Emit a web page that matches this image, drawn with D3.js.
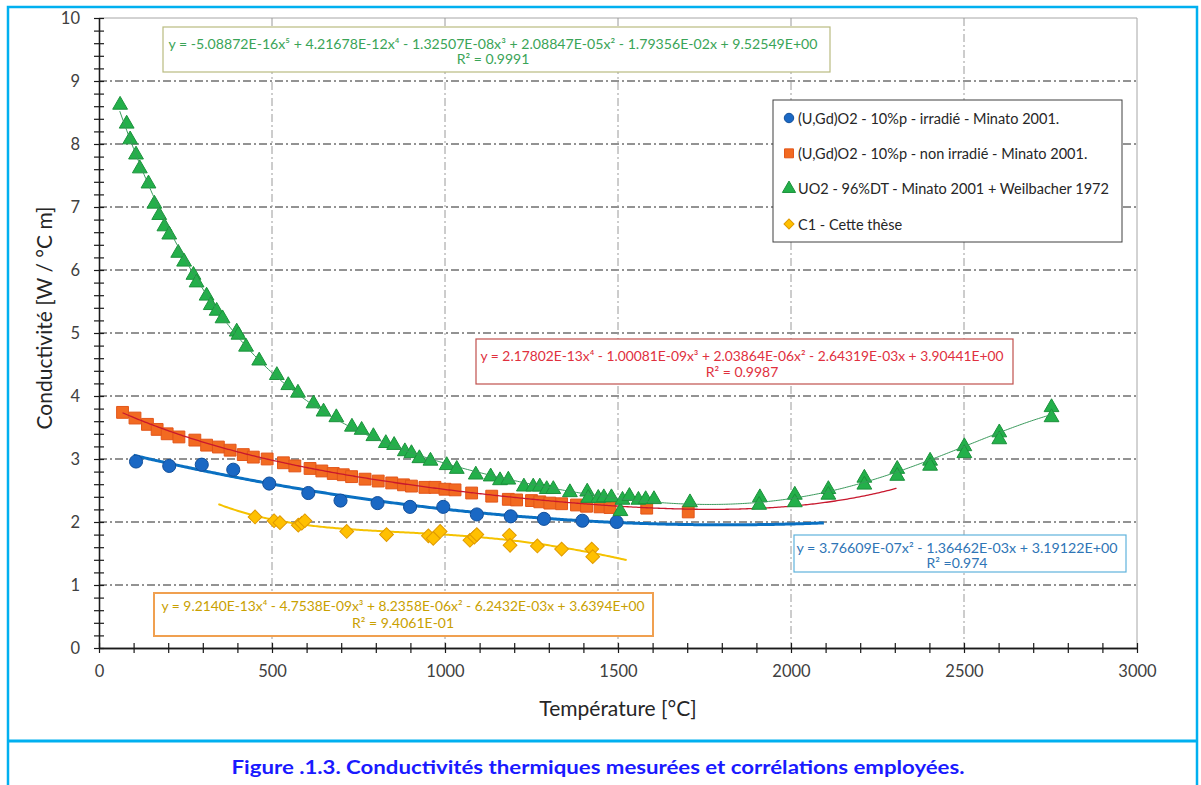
<!DOCTYPE html>
<html><head><meta charset="utf-8">
<script src="https://cdn.jsdelivr.net/npm/d3@7"></script>
<style>
html,body{margin:0;padding:0;background:#fff;}
svg{display:block;font-family:Lato,"Open Sans",sans-serif;}
</style></head>
<body>
<svg id="chart" width="1201" height="785"></svg>
<script>
// ---------- DATA ----------
const xTicks = [0, 500, 1000, 1500, 2000, 2500, 3000];
const yTicks = [0, 1, 2, 3, 4, 5, 6, 7, 8, 9, 10];

const seriesNames = [
  "(U,Gd)O2 - 10%p - irradié - Minato 2001.",
  "(U,Gd)O2 - 10%p - non irradié - Minato 2001.",
  "UO2 - 96%DT - Minato 2001 + Weilbacher 1972",
  "C1 - Cette thèse"
];

// (U,Gd)O2 irradié [T, k]
const irrT = [107, 203, 297, 388, 492, 605, 698, 805, 899, 995, 1092, 1190, 1286, 1397, 1496];
const irrK = [2.96, 2.89, 2.91, 2.83, 2.61, 2.46, 2.34, 2.30, 2.24, 2.24, 2.12, 2.09, 2.05, 2.02, 2.00];

// (U,Gd)O2 non irradié
const nonT = [68, 104, 140, 168, 197, 231, 277, 311, 345, 379, 417, 446, 486, 533, 566, 610, 644, 677, 706, 730, 769, 807, 846, 880, 903, 942, 971, 1000, 1029, 1077, 1135, 1183, 1207, 1250, 1274, 1303, 1337, 1380, 1409, 1448, 1477, 1583, 1703];
const nonK = [3.74, 3.65, 3.55, 3.47, 3.40, 3.35, 3.30, 3.22, 3.19, 3.14, 3.07, 3.03, 3.00, 2.94, 2.89, 2.85, 2.81, 2.77, 2.75, 2.72, 2.68, 2.65, 2.62, 2.59, 2.57, 2.55, 2.55, 2.52, 2.51, 2.46, 2.41, 2.36, 2.35, 2.34, 2.32, 2.30, 2.29, 2.27, 2.25, 2.24, 2.23, 2.22, 2.16];

// UO2 96%DT
const uoT = [61, 80, 90, 107, 118, 143, 160, 174, 189, 203, 229, 246, 273, 282, 311, 323, 340, 357, 398, 403, 425, 463, 514, 547, 575, 620, 649, 686, 731, 759, 793, 829, 853, 884, 903, 926, 958, 1005, 1034, 1089, 1132, 1159, 1183, 1228, 1255, 1274, 1294, 1313, 1361, 1411, 1414, 1443, 1459, 1481, 1507, 1513, 1533, 1559, 1580, 1604, 1708, 1910, 1908, 2011, 2011, 2108, 2108, 2212, 2212, 2307, 2307, 2402, 2402, 2501, 2501, 2602, 2602, 2753, 2753];
const uoK = [8.62, 8.32, 8.07, 7.83, 7.61, 7.37, 7.05, 6.87, 6.69, 6.56, 6.27, 6.13, 5.92, 5.80, 5.59, 5.44, 5.35, 5.23, 5.02, 4.97, 4.78, 4.56, 4.33, 4.17, 4.05, 3.88, 3.75, 3.66, 3.51, 3.46, 3.36, 3.25, 3.22, 3.12, 3.09, 3.01, 2.97, 2.90, 2.84, 2.75, 2.72, 2.66, 2.67, 2.56, 2.56, 2.56, 2.52, 2.52, 2.47, 2.48, 2.38, 2.38, 2.39, 2.39, 2.17, 2.35, 2.41, 2.35, 2.36, 2.36, 2.31, 2.39, 2.27, 2.43, 2.31, 2.52, 2.43, 2.70, 2.59, 2.84, 2.73, 2.97, 2.89, 3.20, 3.09, 3.42, 3.31, 3.82, 3.66];

// C1 - cette thèse
const c1T = [451, 506, 523, 576, 586, 595, 716, 831, 952, 966, 986, 1072, 1085, 1092, 1186, 1188, 1267, 1337, 1424, 1427];
const c1K = [2.08, 2.02, 1.99, 1.95, 1.98, 2.02, 1.85, 1.80, 1.78, 1.74, 1.85, 1.71, 1.76, 1.80, 1.79, 1.63, 1.62, 1.57, 1.57, 1.45];

// Trendline coefficients (as printed on the chart, highest power first) and their T ranges
const irrCoef = [3.76609E-07, -1.36462E-03, 3.19122E+00];
const nonCoef = [2.17802E-13, -1.00081E-09, 2.03864E-06, -2.64319E-03, 3.90441E+00];
const uoCoef  = [-5.08872E-16, 4.21678E-12, -1.32507E-08, 2.08847E-05, -1.79356E-02, 9.52549E+00];
const c1Coef  = [9.2140E-13, -4.7538E-09, 8.2358E-06, -6.2432E-03, 3.6394E+00];
const irrRange = [100, 2095];
const nonRange = [68, 2305];
const uoRange  = [60, 2753];
const c1Range  = [345, 1525];

const eqGreen  = ["y = -5.08872E-16x⁵ + 4.21678E-12x⁴ - 1.32507E-08x³ + 2.08847E-05x² - 1.79356E-02x + 9.52549E+00", "R² = 0.9991"];
const eqRed    = ["y = 2.17802E-13x⁴ - 1.00081E-09x³ + 2.03864E-06x² - 2.64319E-03x + 3.90441E+00", "R² = 0.9987"];
const eqBlue   = ["y = 3.76609E-07x² - 1.36462E-03x + 3.19122E+00", "R² =0.974"];
const eqOrange = ["y = 9.2140E-13x⁴ - 4.7538E-09x³ + 8.2358E-06x² - 6.2432E-03x + 3.6394E+00", "R² = 9.4061E-01"];

const xTitle = "Température [°C]";
const yTitle = "Conductivité [W / °C  m]";
const caption = "Figure .1.3. Conductivités thermiques mesurées et corrélations employées.";

// ---------- DRAW ----------
const svg = d3.select("#chart");
const X0 = 99, X1 = 1137, Y0 = 648, Y1 = 18;
const x = d3.scaleLinear().domain([0, 3000]).range([X0, X1]);
const y = d3.scaleLinear().domain([0, 10]).range([Y0, Y1]);

// frame
svg.append("rect").attr("x", 8).attr("y", 7).attr("width", 1189).attr("height", 800)
  .attr("fill", "none").attr("stroke", "#00b0f0").attr("stroke-width", 2.5);
svg.append("line").attr("x1", 8).attr("x2", 1197).attr("y1", 741).attr("y2", 741)
  .attr("stroke", "#00b0f0").attr("stroke-width", 3);

// plot border (top/right)
svg.append("line").attr("x1", X0).attr("x2", X1).attr("y1", y(10)).attr("y2", y(10)).attr("stroke", "#a6a6a6");
svg.append("line").attr("x1", X1).attr("x2", X1).attr("y1", y(10)).attr("y2", y(0)).attr("stroke", "#a6a6a6");

// gridlines
const grid = svg.append("g");
grid.selectAll(".hg").data(yTicks.filter(v => v > 0 && v < 10)).join("line")
  .attr("x1", X0).attr("x2", X1).attr("y1", d => y(d)).attr("y2", d => y(d))
  .attr("stroke", "#262626").attr("stroke-width", 1).attr("stroke-dasharray", "8,3,2,3");
grid.selectAll(".vg").data(xTicks.filter(v => v > 0 && v < 3000)).join("line")
  .attr("y1", Y1).attr("y2", Y0).attr("x1", d => x(d)).attr("x2", d => x(d))
  .attr("stroke", "#9a9a9a").attr("stroke-width", 1).attr("stroke-dasharray", "8,3,2,3");

// axes
const yMinor = d3.range(0, 10.001, 0.2);
const xMinor = d3.range(0, 3000.1, 100);
function styleAxis(g) { g.select(".domain").attr("stroke", "#1a1a1a").attr("stroke-width", 1.3); g.selectAll(".tick line").attr("stroke", "#1a1a1a").attr("stroke-width", 1.2); }
svg.append("g").attr("transform", `translate(${X0},0)`).call(d3.axisLeft(y).tickValues(yMinor).tickSize(5).tickSizeOuter(0).tickFormat("")).call(styleAxis);
svg.append("g").attr("transform", `translate(${X0},0)`).call(d3.axisRight(y).tickValues(yMinor).tickSize(5).tickSizeOuter(0).tickFormat("")).call(styleAxis);
svg.append("g").attr("transform", `translate(0,${Y0})`).call(d3.axisBottom(x).tickValues(xMinor).tickSize(5).tickSizeOuter(0).tickFormat("")).call(styleAxis);
svg.append("g").attr("transform", `translate(0,${Y0})`).call(d3.axisTop(x).tickValues(xMinor).tickSize(5).tickSizeOuter(0).tickFormat("")).call(styleAxis);

const yLab = svg.append("g").attr("transform", `translate(${X0},0)`)
  .call(d3.axisLeft(y).tickValues(yTicks).tickSize(0).tickPadding(19).tickFormat(d3.format("d")));
yLab.select(".domain").remove();
yLab.selectAll("text").attr("font-size", 16.5).attr("fill", "#404040").attr("font-family", "Lato, sans-serif");
const xLab = svg.append("g").attr("transform", `translate(0,${Y0})`)
  .call(d3.axisBottom(x).tickValues(xTicks).tickSize(0).tickPadding(17).tickFormat(d3.format("d")));
xLab.select(".domain").remove();
xLab.selectAll("text").attr("font-size", 16.5).attr("fill", "#404040").attr("font-family", "Lato, sans-serif");

// titles
svg.append("text").attr("transform", "translate(43,318) rotate(-90)").attr("text-anchor", "middle")
  .attr("dominant-baseline", "central").attr("font-size", 21).attr("fill", "#262626").text(yTitle);
svg.append("text").attr("x", 618).attr("y", 707).attr("text-anchor", "middle")
  .attr("dominant-baseline", "central").attr("font-size", 21).attr("fill", "#262626").text(xTitle);
svg.append("text").attr("x", 598).attr("y", 766).attr("text-anchor", "middle")
  .attr("dominant-baseline", "central").attr("font-size", 19).attr("font-weight", "bold")
  .attr("fill", "#1a1aff").attr("textLength", 733).attr("lengthAdjust", "spacingAndGlyphs").text(caption);

// trendlines
function poly(c, t) { return c.reduce((acc, a) => acc * t + a, 0); }
function trend(coef, range, color, width) {
  const ts = d3.range(range[0], range[1], 5).concat([range[1]]);
  const line = d3.line().x(t => x(t)).y(t => y(poly(coef, t)));
  svg.append("path").datum(ts).attr("d", line).attr("fill", "none")
    .attr("stroke", color).attr("stroke-width", width);
}

// markers
function markers(T, K, type, size, fill, stroke, rot) {
  const sym = d3.symbol().type(type).size(size);
  svg.append("g").selectAll("path").data(T.map((t, i) => [t, K[i]])).join("path")
    .attr("d", sym)
    .attr("transform", d => `translate(${x(d[0])},${y(d[1])}) rotate(${rot || 0})`)
    .attr("fill", fill).attr("stroke", stroke).attr("stroke-width", 1);
}
markers(nonT, nonK, d3.symbolSquare, 140, "#f26a21", "#e2561a");
trend(nonCoef, nonRange, "#c8182e", 1.3);
trend(irrCoef, irrRange, "#0a70c2", 3);
markers(irrT, irrK, d3.symbolCircle, 135, "#1a68c4", "#124f9a");
trend(c1Coef, c1Range, "#f5c200", 2);
markers(c1T, c1K, d3.symbolSquare, 95, "#ffc000", "#e09a00", 45);
markers(uoT, uoK, d3.symbolTriangle, 95, "#23b04a", "#1c913c");
trend(uoCoef, uoRange, "#3a9a5c", 1);

// equation boxes
function eqBox(lines, bx, by, bw, bh, cx, l1, l2, tw, color, border, bwid) {
  svg.append("rect").attr("x", bx).attr("y", by).attr("width", bw).attr("height", bh)
    .attr("fill", "#fff").attr("stroke", border).attr("stroke-width", bwid);
  svg.append("text").attr("x", cx).attr("y", l1).attr("text-anchor", "middle").attr("dominant-baseline", "central")
    .attr("font-size", 14).attr("fill", color).attr("textLength", tw).attr("lengthAdjust", "spacingAndGlyphs").text(lines[0]);
  svg.append("text").attr("x", cx).attr("y", l2).attr("text-anchor", "middle").attr("dominant-baseline", "central")
    .attr("font-size", 14).attr("fill", color).text(lines[1]);
}
eqBox(eqGreen, 163, 27, 667, 45, 493, 43, 58, 649, "#3aa457", "#b9bb80", 1.2);
eqBox(eqRed, 476, 339, 537, 45, 742, 355, 371, 523, "#e0303e", "#c0504d", 1.2);
eqBox(eqBlue, 794, 535, 332, 37, 957, 547, 562, 321, "#2e75b6", "#5fb3dc", 1.2);
eqBox(eqOrange, 154, 593, 499, 43, 403, 605, 622, 483, "#c9a000", "#f0a050", 2);

// legend
const lg = svg.append("g");
lg.append("rect").attr("x", 773).attr("y", 100).attr("width", 349).attr("height", 142)
  .attr("fill", "#fff").attr("stroke", "#404040").attr("stroke-width", 1);
const legSyms = [
  {type: d3.symbolCircle, size: 70, fill: "#1a68c4", stroke: "#124f9a", rot: 0},
  {type: d3.symbolSquare, size: 80, fill: "#f26a21", stroke: "#e2561a", rot: 0},
  {type: d3.symbolTriangle, size: 75, fill: "#23b04a", stroke: "#1c913c", rot: 0},
  {type: d3.symbolSquare, size: 50, fill: "#ffc000", stroke: "#e09a00", rot: 45}
];
const rowY = d3.scalePoint().domain(seriesNames).range([118, 224]);
seriesNames.forEach((n, i) => {
  const s = legSyms[i];
  lg.append("path").attr("d", d3.symbol().type(s.type).size(s.size))
    .attr("transform", `translate(789,${rowY(n)}) rotate(${s.rot})`).attr("fill", s.fill).attr("stroke", s.stroke);
  lg.append("text").attr("x", 798).attr("y", rowY(n)).attr("dominant-baseline", "central")
    .attr("font-size", 14.5).attr("fill", "#262626").text(n);
});
</script>
</body></html>
